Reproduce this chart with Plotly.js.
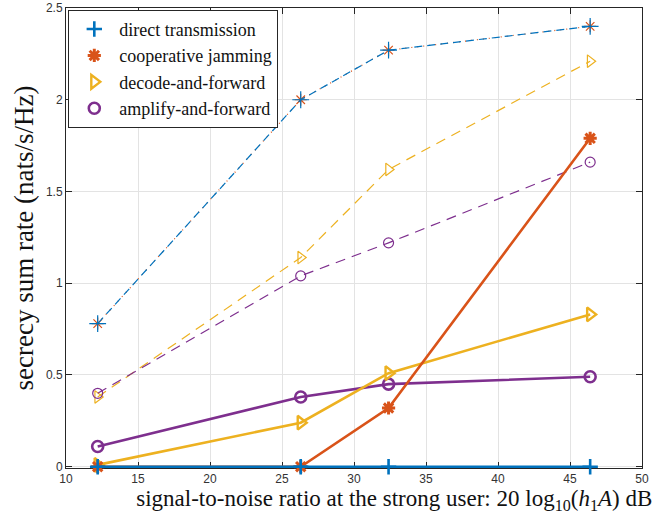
<!DOCTYPE html>
<html><head><meta charset="utf-8">
<script src="https://cdn.plot.ly/plotly-3.0.1.min.js"></script>
<style>body{margin:0;background:#fff}#chart{width:652px;height:518px}</style>
</head><body><div id="chart"></div>
<script>
const snr = [12.2, 26.3, 32.4, 46.4];
const directTx = [0, 0, 0, 0];
const coopJam = [0, 0, 0.32, 1.79];
const dfSolid = [0.01, 0.24, 0.51, 0.83];
const afSolid = [0.11, 0.38, 0.45, 0.49];
const dfDashed = [0.38, 1.14, 1.62, 2.21];
const afDashed = [0.40, 1.04, 1.22, 1.66];
const upperBound = [0.78, 2.00, 2.27, 2.40];
const legendNames = ['direct transmission','cooperative jamming','decode-and-forward','amplify-and-forward'];
const xTicks = [10,15,20,25,30,35,40,45,50];
const yTicks = [0,0.5,1,1.5,2,2.5];

const BLUE='#0072BD', ORANGE='#D95319', YEL='#EDB120', PUR='#7E2F8E';

function mk(symbol,size,color,w){return {symbol:symbol,size:size,color:color,line:{color:color,width:w}};}

const traces = [
  {x:snr,y:upperBound,mode:'lines+markers',showlegend:false,cliponaxis:false,
   line:{color:ORANGE,width:1.2,dash:'1px,5px'}, marker:mk('asterisk-open',10,ORANGE,1.2)},
  {x:snr,y:upperBound,mode:'lines+markers',showlegend:false,cliponaxis:false,
   line:{color:BLUE,width:1.2,dash:'8px,5px'}, marker:mk('cross-thin-open',12,BLUE,1.2)},
  {x:snr,y:dfDashed,mode:'lines+markers',showlegend:false,cliponaxis:false,
   line:{color:YEL,width:1.2,dash:'10px,7px'}, marker:mk('triangle-right-open',11,YEL,1.2)},
  {x:snr,y:afDashed,mode:'lines+markers',showlegend:false,cliponaxis:false,
   line:{color:PUR,width:1.2,dash:'10px,7px'}, marker:mk('circle-open',10,PUR,1.2)},
  {x:snr,y:afSolid,mode:'lines+markers',showlegend:false,cliponaxis:false,
   line:{color:PUR,width:2.6}, marker:mk('circle-open',11,PUR,2.6)},
  {x:snr,y:dfSolid,mode:'lines+markers',showlegend:false,cliponaxis:false,
   line:{color:YEL,width:2.6}, marker:mk('triangle-right-open',12,YEL,2.4)},
  {x:snr,y:coopJam,mode:'lines+markers',showlegend:false,cliponaxis:false,
   line:{color:ORANGE,width:2.6}, marker:mk('asterisk-open',11,ORANGE,3)},
  {x:snr,y:directTx,mode:'lines+markers',showlegend:false,cliponaxis:false,
   line:{color:BLUE,width:2.6}, marker:mk('cross-thin-open',11,BLUE,2.6)},
  {x:[null],y:[null],mode:'markers',name:legendNames[0], marker:mk('cross-thin-open',11,BLUE,2.6)},
  {x:[null],y:[null],mode:'markers',name:legendNames[1], marker:mk('asterisk-open',11,ORANGE,3)},
  {x:[null],y:[null],mode:'markers',name:legendNames[2], marker:mk('triangle-right-open',12,YEL,2.4)},
  {x:[null],y:[null],mode:'markers',name:legendNames[3], marker:mk('circle-open',11,PUR,2.6)}
];

const axisCommon = {
  showline:true, linecolor:'#262626', linewidth:1, mirror:'ticks',
  ticks:'inside', ticklen:6, tickcolor:'#262626', layer:'below traces',
  showgrid:true, gridcolor:'#e3e3e3', gridwidth:1, zeroline:false,
  tickfont:{family:'Liberation Sans, Arial, sans-serif', size:12, color:'#333'}
};

const nb = '&nbsp;'.repeat(14);
const layout = {
  width:652, height:518,
  margin:{l:66,r:10,t:8,b:50},
  paper_bgcolor:'#fff', plot_bgcolor:'#fff',
  font:{family:'Liberation Serif, Times New Roman, serif'},
  xaxis:Object.assign({}, axisCommon, {
    range:[10,50], tickvals:xTicks, ticktext:xTicks.map(String),
    title:{text:nb+'signal-to-noise ratio at the strong user: 20 log<sub>10</sub>(<i>h</i><sub>1</sub><i>A</i>) dB',
      font:{family:'Liberation Serif, serif', size:23, color:'#111'}, standoff:3}
  }),
  yaxis:Object.assign({}, axisCommon, {
    range:[-0.007,2.5], tickvals:yTicks, ticktext:yTicks.map(String),
    title:{text:'secrecy sum rate (nats/s/Hz)',
      font:{family:'Liberation Serif, serif', size:27, color:'#111'}, standoff:4}
  }),
  showlegend:true,
  legend:{x:0.004, y:0.996, xanchor:'left', yanchor:'top',
    bgcolor:'#fff', bordercolor:'#262626', borderwidth:1,
    font:{family:'Liberation Serif, serif', size:18, color:'#111'},
    tracegroupgap:0, itemwidth:40}
};

Plotly.newPlot('chart', traces, layout, {displayModeBar:false, staticPlot:true});
</script>
</body></html>
